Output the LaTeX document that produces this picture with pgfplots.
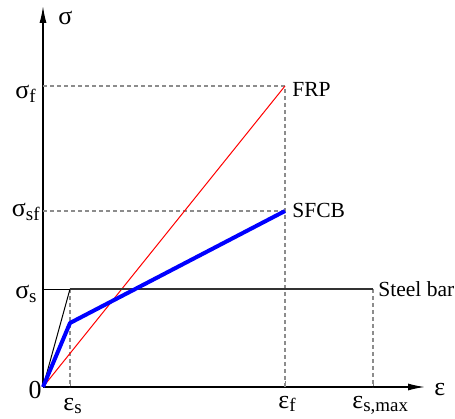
\documentclass[border=0pt]{standalone}
\usepackage{fontspec}
\setmainfont{Liberation Serif}
\usepackage{pgfplots}
\pgfplotsset{compat=1.18}
\usetikzlibrary{arrows.meta}
\newcommand\gk[1]{{\fontsize{13}{15}\selectfont #1}}
\newcommand\sub[1]{\raisebox{-0.35ex}{\fontsize{9.5}{11}\selectfont #1}}
\begin{document}
\begin{tikzpicture}
\useasboundingbox (-21.5bp,-16bp) rectangle (206bp,193.5bp);
\begin{axis}[anchor=origin, at={(0,0)}, scale only axis, width=191bp, height=190.5bp,
  xmin=0, xmax=382, ymin=0, ymax=381,
  axis lines=left,
  axis line style={line width=0.7bp, -{Latex[length=8.5bp,width=3.5bp]}},
  xtick={27,242,330}, xticklabels={}, ytick=\empty,
  tick align=inside, major tick length=3bp,
  tick style={gray, line width=0.4bp},
  clip=false, font=\fontsize{10.8}{13}\selectfont]
\pgfplotsset{dsh/.style={gray!90, line width=0.55bp, dash pattern=on 2bp off 1.5bp}}
\addplot[dsh] coordinates {(0,301) (242,301) (242,0)};
\addplot[dsh] coordinates {(0,176) (242,176)};
\addplot[dsh] coordinates {(27,98) (27,0)};
\addplot[dsh] coordinates {(330,98) (330,0)};
\addplot[black, line width=0.4bp] coordinates {(0,98) (27,98)};
\addplot[red, line width=0.5bp] coordinates {(0,0) (242,301)};
\addplot[black, line width=0.5bp] coordinates {(0,0) (27,98)};
\addplot[black!80, line width=0.75bp] coordinates {(27,98) (330,98)};
\addplot[blue, line width=2bp, line join=round] coordinates {(0,0) (27,64) (242,176)};
% labels
\node[anchor=base west, inner sep=0pt] at (axis cs:15,362) {\gk{σ}};
\node[anchor=base east, inner sep=0pt] at (axis cs:-7,288) {\gk{σ}\sub{f}};
\node[anchor=base east, inner sep=0pt] at (axis cs:-3,170) {\gk{σ}\sub{sf}};
\node[anchor=base east, inner sep=0pt] at (axis cs:-6,88) {\gk{σ}\sub{s}};
\node[anchor=base east, inner sep=0pt] at (axis cs:-1,-11) {\gk{0}};
\node[anchor=base west, inner sep=0pt] at (axis cs:20,-23) {\gk{ε}\sub{s}};
\node[anchor=base west, inner sep=0pt] at (axis cs:235,-21) {\gk{ε}\sub{f}};
\node[anchor=base west, inner sep=0pt] at (axis cs:309,-21) {\gk{ε}\sub{s,max}};
\node[anchor=base west, inner sep=0pt] at (axis cs:391,-8) {\gk{ε}};
\node[anchor=base west, inner sep=0pt] at (axis cs:249,290) {FRP};
\node[anchor=base west, inner sep=0pt] at (axis cs:249,169) {SFCB};
\node[anchor=base west, inner sep=0pt] at (axis cs:335,90) {Steel bar};
\end{axis}
\end{tikzpicture}
\end{document}
